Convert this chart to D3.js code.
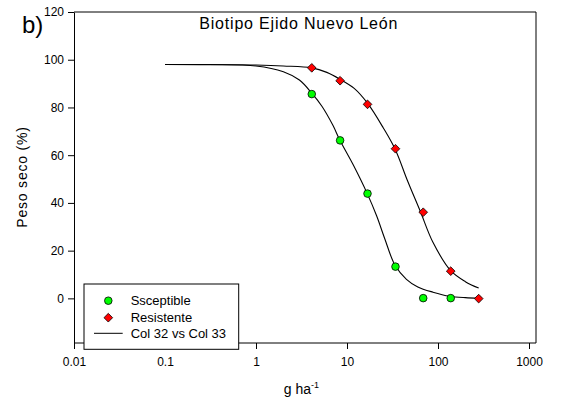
<!DOCTYPE html>
<html><head><meta charset="utf-8">
<script src="https://cdn.jsdelivr.net/npm/d3@7"></script>
<style>
body{margin:0;background:#fff}
svg{display:block}
text{font-family:Arial,"Liberation Sans",sans-serif;fill:#000}
</style>
</head><body>
<script>
const xTickValues=[0.01,0.1,1,10,100,1000];
const xTickLabels=["0.01","0.1","1","10","100","1000"];
const yTickValues=[0,20,40,60,80,100,120];
const doses=[4.1,8.4,16.8,34.1,68.8,138,280];
const susceptible=[85.6,66.2,43.9,13.3,0.1,0.1];
const resistente=[96.6,91.2,81.3,62.7,36.1,11.4,-0.1];
const curveSX=[0.1,0.3,1,2,3,4.1,5.3,7,8.3,11.7,16.7,21.2,26,33.6,45,60,88,134,200,280];
const curveSY=[98,97.9,97.4,95.0,91.5,86,80.5,72.5,66.5,56,43.9,34.5,25,14,8,4.8,2.6,0.9,0.3,0.1];
const curveRX=[0.1,0.3,1,2,4.1,6,8.4,12,16.8,25,34.1,46,64,88,138,200,280];
const curveRY=[98,98,97.8,97.4,96.6,94.7,91.8,88,81.8,71.5,62.2,49.5,36.4,23.5,11.6,7,4.3];
const legendLabels=["Ssceptible","Resistente","Col 32 vs Col 33"];

const W=562,H=402;
const L=74,R=529,T=12,B=343,FR=536;
const svg=d3.select("body").append("svg").attr("width",W).attr("height",H);
const x=d3.scaleLog().domain([0.01,1000]).range([L,R]);
const y=d3.scaleLinear().domain([-18.7,120]).range([B,T]);

// frame (top & right)
svg.append("path").attr("d",`M${L},${T}H${FR}V${B}`).attr("fill","none").attr("stroke","#000").attr("stroke-width",1);

const xa=svg.append("g").attr("transform",`translate(0,${B})`)
 .call(d3.axisBottom(x).tickValues(xTickValues).tickFormat((d,i)=>xTickLabels[i]).tickSize(6).tickSizeOuter(0).tickPadding(8.5));
const ya=svg.append("g").attr("transform",`translate(${L},0)`)
 .call(d3.axisLeft(y).tickValues(yTickValues).tickSize(6).tickSizeOuter(0).tickPadding(4));
[xa,ya].forEach(g=>{g.selectAll("text").attr("font-size",12).attr("font-family",null);g.attr("font-family",null);g.selectAll("line,path").attr("stroke","#000");});
xa.select(".domain").attr("d",`M${L},0H${FR}`);

const line=d3.line().x(d=>x(d[0])).y(d=>y(d[1])).curve(d3.curveCatmullRom.alpha(0.5));
svg.append("path").datum(curveSX.map((v,i)=>[v,curveSY[i]])).attr("d",line).attr("fill","none").attr("stroke","#000").attr("stroke-width",1.1);
svg.append("path").datum(curveRX.map((v,i)=>[v,curveRY[i]])).attr("d",line).attr("fill","none").attr("stroke","#000").attr("stroke-width",1.1);

svg.append("g").selectAll("circle").data(susceptible).join("circle")
 .attr("cx",(d,i)=>x(doses[i])).attr("cy",d=>y(d)).attr("r",3.8)
 .attr("fill","#00ff00").attr("stroke","#000").attr("stroke-width",0.8);
const dia=d3.symbol().type(d3.symbolDiamond2).size(48);
svg.append("g").selectAll("path").data(resistente).join("path")
 .attr("transform",(d,i)=>`translate(${x(doses[i])},${y(d)})`).attr("d",dia)
 .attr("fill","#ff0000").attr("stroke","#000").attr("stroke-width",0.8);

// legend
const lg=svg.append("g");
lg.append("rect").attr("x",84).attr("y",284).attr("width",154.7).attr("height",65.3).attr("fill","#fff").attr("stroke","#000");
const rows=[300.7,317.7,333.3];
lg.append("circle").attr("cx",108.3).attr("cy",rows[0]).attr("r",3.8).attr("fill","#00ff00").attr("stroke","#000").attr("stroke-width",0.8);
lg.append("path").attr("transform",`translate(108.3,${rows[1]})`).attr("d",dia).attr("fill","#ff0000").attr("stroke","#000").attr("stroke-width",0.8);
lg.append("line").attr("x1",94).attr("x2",122.7).attr("y1",rows[2]).attr("y2",rows[2]).attr("stroke","#000");
lg.selectAll("text").data(legendLabels).join("text").attr("x",130.7).attr("y",(d,i)=>rows[i]+4.6).attr("font-size",13).text(d=>d);

// titles
svg.append("text").attr("x",199.3).attr("y",29.3).attr("font-size",16).attr("letter-spacing",0.8).text("Biotipo Ejido Nuevo León");
svg.append("text").attr("x",22).attr("y",33).attr("font-size",24).text("b)");
svg.append("text").attr("transform","translate(27,177) rotate(-90)").attr("text-anchor","middle").attr("font-size",14).attr("letter-spacing",0.8).text("Peso seco (%)");
const xl=svg.append("text").attr("x",301.5).attr("y",394).attr("text-anchor","middle").attr("font-size",14);
xl.append("tspan").text("g ha");
xl.append("tspan").attr("font-size",9).attr("dy",-6).text("-1");
</script>
</body></html>
